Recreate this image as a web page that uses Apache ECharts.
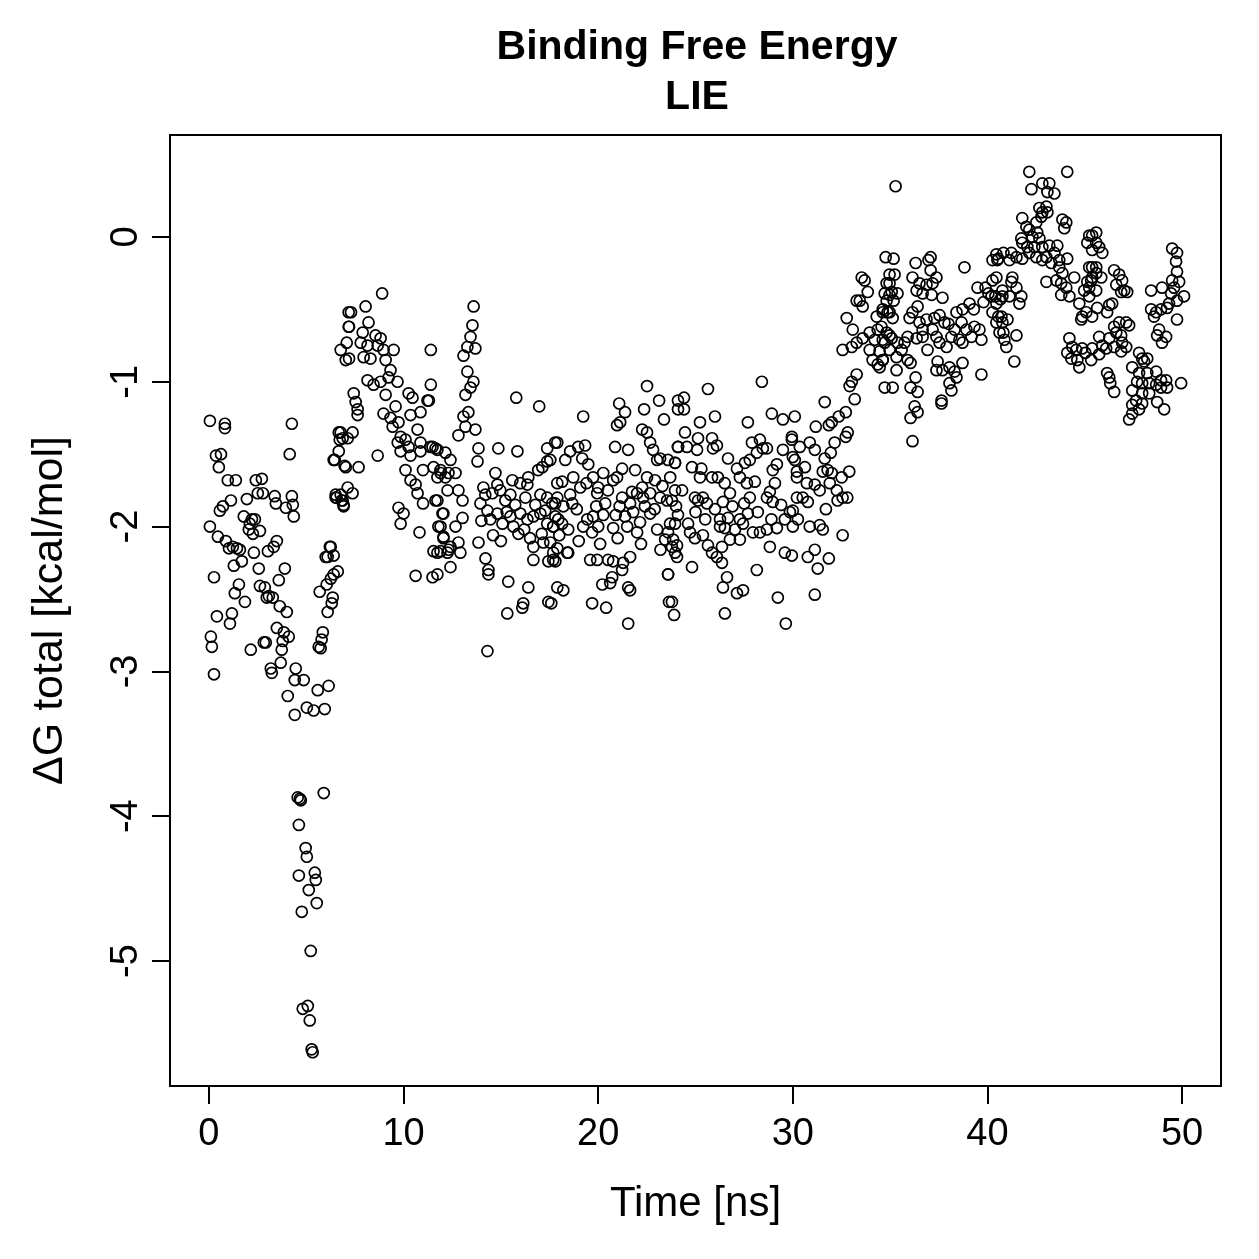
<!DOCTYPE html>
<html>
<head>
<meta charset="utf-8">
<script src="https://cdn.jsdelivr.net/npm/echarts@6/dist/echarts.min.js"></script>
<style>
  html, body { margin: 0; padding: 0; background: #fff; }
  #chart { width: 1259px; height: 1259px; }
</style>
</head>
<body>
<div id="chart"></div>
<script>
// [time ns, dG kcal/mol], by time window
var seg0to7 = [
  [0.05,-1.27],[0.05,-2.0],[0.10,-2.76],[0.15,-2.83],[0.26,-3.02],[0.26,-2.35],[0.36,-1.51],[0.46,-2.07],[0.41,-2.62],[0.51,-1.59],
  [0.56,-1.89],[0.62,-1.5],[0.72,-1.86],[0.82,-1.29],[0.82,-1.32],[0.87,-2.1],[0.97,-1.68],[1.03,-2.15],[1.08,-2.67],[1.13,-1.82],
  [1.18,-2.6],[1.23,-2.14],[1.28,-2.27],[1.33,-2.46],[1.38,-1.68],[1.44,-2.15],[1.54,-2.4],[1.59,-2.16],[1.69,-2.24],[1.79,-1.93],
  [1.85,-2.52],[1.95,-1.81],[2.05,-2.02],[2.10,-1.98],[2.15,-2.85],[2.21,-1.95],[2.26,-2.05],[2.31,-2.18],[2.36,-1.95],[2.41,-1.68],
  [2.51,-1.77],[2.56,-2.29],[2.62,-2.03],[2.62,-2.41],[2.72,-1.67],[2.77,-1.77],[2.82,-2.8],[2.87,-2.42],[2.92,-2.8],[2.97,-2.49],
  [3.03,-2.17],[3.08,-2.48],[3.18,-2.98],[3.23,-3.01],[3.28,-2.49],[3.33,-2.14],[3.38,-1.79],[3.44,-1.84],[3.49,-2.7],[3.49,-2.1],
  [3.59,-2.37],[3.64,-2.55],[3.69,-2.94],[3.74,-2.85],[3.79,-2.79],[3.85,-2.73],[3.90,-2.29],[3.95,-1.87],[4.0,-2.59],[4.05,-3.17],
  [4.10,-2.76],[4.15,-1.5],[4.26,-1.29],[4.26,-1.79],[4.31,-1.85],[4.36,-1.93],[4.41,-3.06],[4.41,-3.3],[4.46,-2.98],[4.56,-3.87],
  [4.62,-4.06],[4.62,-4.41],[4.67,-3.88],[4.72,-3.89],[4.77,-4.66],[4.82,-5.33],[4.87,-3.06],[4.97,-4.22],[5.03,-3.25],[5.03,-4.28],
  [5.08,-5.31],[5.13,-4.51],[5.18,-5.41],[5.23,-4.93],[5.28,-5.61],[5.33,-5.63],[5.38,-3.27],[5.44,-4.39],[5.49,-4.44],[5.54,-4.6],
  [5.59,-3.13],[5.64,-2.83],[5.69,-2.45],[5.74,-2.84],[5.79,-2.78],[5.85,-2.73],[5.90,-3.84],[5.95,-3.26],[6.0,-2.21],[6.05,-2.4],
  [6.10,-2.59],[6.15,-3.1],[6.21,-2.14],[6.26,-2.36],[6.31,-2.53],[6.36,-2.49],[6.41,-2.33],[6.46,-1.54],[6.51,-1.78],[6.56,-1.8],
  [6.62,-2.31],[6.67,-1.35],[6.72,-1.4],[6.77,-1.78],[6.82,-1.82],[6.87,-1.39],[6.92,-1.86],[6.97,-1.58],[7.03,-0.85],[7.08,-0.73],
  [7.13,-1.73],[7.18,-0.52],[7.18,-0.62],[6.26,-2.14],[6.1,-2.21],[6.41,-2.2],[6.77,-1.35],[7.13,-1.39],[7.38,-1.35],[6.67,-1.48],
  [6.41,-1.54],[7.03,-1.59],[6.51,-1.8],[6.87,-1.82],[6.92,-1.85],[6.77,-0.78]
];
var seg7to13 = [
  [8.9,-0.39],[8.05,-0.48],[7.3,-0.52],[7.2,-0.62],[8.2,-0.59],[7.9,-0.66],[8.56,-0.68],[8.82,-0.7],[7.8,-0.73],[8.15,-0.75],
  [8.67,-0.75],[8.97,-0.78],[9.49,-0.78],[7.2,-0.84],[7.95,-0.83],[8.3,-0.84],[9.08,-0.85],[9.33,-0.92],[9.23,-0.97],
  [11.4,-0.78],[11.4,-1.02],[11.3,-1.13],[7.44,-1.08],[7.54,-1.14],[7.64,-1.19],[7.64,-1.23],[8.15,-0.99],[8.46,-1.02],[8.82,-1.0],
  [9.69,-1.0],[9.08,-1.09],[9.59,-1.17],[8.97,-1.22],[9.33,-1.25],[9.74,-1.28],[9.44,-1.31],[10.26,-1.08],[10.46,-1.11],[10.87,-1.21],
  [10.36,-1.23],[10.72,-1.33],[11.23,-1.13],[9.85,-1.38],[10.1,-1.4],[9.7,-1.42],[10.26,-1.45],[10.87,-1.42],[9.85,-1.48],[10.36,-1.51],
  [10.87,-1.48],[11.38,-1.45],[11.64,-1.46],[7.69,-1.59],[8.67,-1.51],[10.1,-1.61],[10.36,-1.68],[10.62,-1.71],[10.72,-1.77],
  [11.0,-1.61],[11.54,-1.59],[11.9,-1.63],[12.15,-1.66],[7.38,-1.77],[9.74,-1.87],[10.0,-1.91],[9.85,-1.98],[10.82,-2.04],
  [11.0,-1.84],[11.64,-1.82],[12.0,-1.91],[11.79,-2.0],[12.05,-2.07],[11.54,-2.17],[11.9,-2.17],[12.26,-2.18],[10.62,-2.34],[11.49,-2.35],
  [11.49,-1.45],[11.74,-1.47],[12.15,-1.49],[12.41,-1.54],[11.9,-1.61],[11.74,-1.66],[12.31,-1.63],[12.67,-1.63],[12.26,-1.75],[12.82,-1.75],
  [11.74,-1.82],[13.03,-1.82],[12.05,-1.91],[11.9,-2.0],[12.67,-2.0],[13.03,-1.94],[12.05,-2.08],[12.41,-2.14],[12.82,-2.11],[11.74,-2.18],
  [12.31,-2.16],[12.92,-2.18],[12.41,-2.28],[11.74,-2.33]
];
var seg13to18 = [
  [13.6,-0.48],[13.54,-0.61],[13.44,-0.69],[13.28,-0.76],[13.69,-0.77],[13.08,-0.82],[13.28,-0.93],[13.59,-1.0],[13.44,-1.04],[13.18,-1.09],
  [13.33,-1.21],[13.08,-1.24],[13.18,-1.31],[12.82,-1.37],[13.69,-1.33],[15.79,-1.11],[16.97,-1.17],[13.85,-1.46],[13.8,-1.55],[14.87,-1.46],
  [15.85,-1.48],[17.38,-1.46],[17.79,-1.42],[17.13,-1.59],[17.38,-1.55],[16.92,-1.61],[14.72,-1.63],[14.1,-1.73],[14.56,-1.77],[14.82,-1.71],
  [15.59,-1.68],[16.0,-1.7],[16.41,-1.66],[16.36,-1.71],[17.03,-1.78],[17.38,-1.8],[17.79,-1.84],[17.9,-1.7],[13.95,-1.84],[14.31,-1.89],
  [14.46,-1.95],[14.82,-1.91],[15.08,-1.98],[15.49,-1.93],[15.64,-2.0],[16.0,-1.91],[16.36,-1.95],[16.67,-1.93],[17.03,-1.91],[17.38,-1.98],
  [17.69,-2.0],[17.95,-1.95],[14.2,-1.78],[15.23,-1.82],[15.74,-1.85],[16.26,-1.8],[16.77,-1.85],[17.28,-1.89],[14.97,-1.75],[15.49,-1.78],
  [13.85,-2.11],[14.21,-2.22],[14.36,-2.3],[14.36,-2.33],[16.67,-2.14],[17.18,-2.11],[17.69,-2.18],[17.44,-2.24],[16.67,-2.23],[15.38,-2.38],
  [16.41,-2.42],[15.33,-2.6],[16.15,-2.53],[16.1,-2.56],[17.44,-2.52],[17.9,-2.42],[14.31,-2.86],[14.6,-2.06],[15.0,-2.1],[15.9,-2.05],
  [16.5,-2.08],[14.0,-1.96],[15.3,-1.9],[16.2,-2.02],[17.1,-2.05]
];
var seg18to24 = [
  [22.51,-1.03],[19.23,-1.24],[21.08,-1.15],[21.38,-1.21],[20.97,-1.3],[21.13,-1.28],[22.36,-1.19],[23.13,-1.13],[23.38,-1.26],[24.1,-1.13],
  [24.1,-1.19],[22.26,-1.33],[22.51,-1.35],[22.67,-1.42],[22.82,-1.47],[23.18,-1.53],[23.59,-1.54],[23.95,-1.56],[23.03,-1.54],[20.87,-1.45],
  [21.54,-1.47],[24.1,-1.45],[17.9,-1.42],[18.56,-1.48],[18.97,-1.45],[19.33,-1.44],[19.18,-1.53],[19.49,-1.57],[18.31,-1.54],[17.54,-1.54],
  [18.15,-1.69],[18.72,-1.66],[19.08,-1.73],[18.56,-1.78],[17.9,-1.8],[17.64,-1.84],[18.21,-1.86],[18.67,-1.84],[19.74,-1.66],[20.26,-1.63],
  [20.0,-1.73],[19.95,-1.77],[20.36,-1.84],[20.77,-1.68],[20.97,-1.66],[21.23,-1.6],[21.9,-1.61],[22.51,-1.66],[22.92,-1.68],[22.26,-1.73],
  [21.74,-1.76],[21.23,-1.8],[22.0,-1.77],[21.64,-1.84],[22.31,-1.8],[22.67,-1.77],[23.18,-1.8],[23.54,-1.82],[23.95,-1.75],
  [17.8,-1.93],[18.15,-1.98],[18.46,-2.02],[17.69,-2.0],[17.54,-2.11],[17.9,-2.15],[17.69,-2.23],[18.46,-2.18],[19.44,-1.95],[19.74,-1.93],
  [20.26,-1.92],[19.23,-2.0],[19.69,-2.04],[20.0,-2.0],[20.77,-2.01],[21.38,-1.93],[21.49,-2.0],[22.0,-2.04],[22.15,-1.97],[22.67,-1.91],
  [23.03,-2.02],[23.44,-2.09],[23.59,-2.04],[23.95,-1.98],[23.79,-2.14],[24.05,-2.21],[19.59,-2.23],[19.95,-2.23],[20.51,-2.23],[20.77,-2.24],
  [21.28,-2.25],[21.64,-2.21],[17.8,-2.24],[18.41,-2.18],[20.72,-2.35],[21.23,-2.3],[20.21,-2.4],[20.62,-2.39],[21.54,-2.42],[21.64,-2.44],
  [23.59,-2.33],[18.21,-2.44],[17.59,-2.53],[19.69,-2.53],[20.41,-2.56],[21.54,-2.67],[23.79,-2.52],[23.9,-2.61],
  [18.9,-1.88],[19.4,-1.7],[19.9,-1.86],[20.5,-1.75],[20.9,-1.92],[21.1,-1.86],[21.8,-1.9],[22.4,-1.86],[22.9,-1.88],[23.3,-1.72],
  [23.7,-1.66],[24.0,-1.86],[18.0,-2.06],[19.0,-2.1],[20.1,-2.12],[21.0,-2.08],[22.2,-2.12],[23.2,-2.16]
];
var seg24to30 = [
  [28.41,-1.0],[25.64,-1.05],[24.41,-1.11],[24.41,-1.19],[26.0,-1.24],[25.23,-1.28],[24.46,-1.35],[25.13,-1.39],[25.85,-1.39],[26.1,-1.44],
  [24.1,-1.45],[24.56,-1.45],[25.08,-1.47],[26.67,-1.53],[25.9,-1.46],[27.69,-1.28],[28.92,-1.22],[29.49,-1.26],[30.1,-1.24],
  [27.9,-1.42],[28.31,-1.4],[28.46,-1.46],[28.15,-1.49],[28.67,-1.46],[27.79,-1.54],[27.54,-1.56],[27.13,-1.6],[29.95,-1.38],[29.49,-1.47],
  [29.18,-1.57],[28.97,-1.61],[30.0,-1.52],[30.21,-1.62],[23.95,-1.56],[24.82,-1.59],[25.23,-1.66],[25.85,-1.66],[26.15,-1.66],[27.28,-1.66],
  [27.64,-1.7],[28.05,-1.69],[29.08,-1.7],[28.82,-1.76],[28.67,-1.8],[28.97,-1.83],[27.79,-1.8],[26.77,-1.77],[26.41,-1.83],[25.38,-1.8],
  [25.13,-1.82],[25.59,-1.84],[24.97,-1.8],[24.31,-1.75],[23.79,-1.82],[24.1,-1.92],[24.62,-1.98],[23.69,-1.98],[23.85,-2.09],[24.05,-2.13],
  [24.72,-2.04],[24.97,-2.08],[25.38,-2.06],[25.64,-2.13],[25.85,-2.18],[26.1,-2.21],[26.36,-2.14],[26.26,-1.95],[26.67,-1.94],[27.28,-1.95],
  [27.69,-1.91],[26.51,-2.01],[27.03,-2.02],[27.44,-1.98],[27.95,-2.04],[28.31,-2.04],[28.67,-2.02],[29.18,-2.01],[29.59,-1.95],[29.85,-1.9],
  [30.0,-2.0],[27.28,-2.09],[26.77,-2.09],[26.26,-2.0],[23.95,-2.18],[24.82,-2.28],[26.36,-2.25],[26.62,-2.35],[26.41,-2.42],[27.13,-2.46],
  [27.44,-2.44],[28.15,-2.3],[28.82,-2.14],[29.59,-2.18],[23.59,-2.33],[23.64,-2.52],[26.51,-2.6],[29.23,-2.49],[29.64,-2.67],
  [25.0,-1.9],[25.5,-1.95],[26.0,-1.88],[26.9,-1.86],[27.5,-1.84],[28.2,-1.9],[28.9,-1.95],[29.4,-1.85],[25.3,-1.6],[26.5,-1.7]
];
var seg30to35 = [
  [34.77,-0.14],[34.97,-0.26],[34.82,-0.32],[34.72,-0.39],[34.97,-0.4],[35.18,-0.44],[33.54,-0.28],[33.69,-0.3],[33.85,-0.38],[33.44,-0.44],
  [33.59,-0.48],[33.28,-0.44],[32.77,-0.56],[33.08,-0.64],[32.56,-0.78],[33.03,-0.76],[33.28,-0.73],[33.59,-0.7],[33.95,-0.66],[34.31,-0.55],
  [34.62,-0.52],[34.97,-0.52],[34.36,-0.64],[34.21,-0.71],[34.62,-0.71],[34.97,-0.68],[33.95,-0.78],[34.1,-0.85],[34.36,-0.88],[34.62,-0.85],
  [34.97,-0.78],[35.33,-0.83],[35.33,-0.92],[34.72,-1.04],[33.28,-0.95],[33.03,-1.0],[32.92,-1.03],[33.18,-1.12],[31.64,-1.14],[32.72,-1.21],
  [32.36,-1.24],[32.0,-1.28],[31.85,-1.3],[32.82,-1.35],[32.72,-1.38],[32.15,-1.42],[31.95,-1.49],[31.64,-1.53],[31.18,-1.31],
  [29.95,-1.4],[30.36,-1.45],[30.87,-1.42],[31.13,-1.47],[30.1,-1.54],[30.62,-1.59],[30.21,-1.66],[31.54,-1.62],[31.79,-1.61],[32.0,-1.63],
  [32.51,-1.66],[30.72,-1.7],[31.13,-1.71],[31.38,-1.75],[32.26,-1.75],[32.56,-1.8],[30.21,-1.8],[30.51,-1.8],[30.77,-1.83],[30.0,-1.89],
  [30.26,-1.95],[30.87,-2.0],[31.38,-1.99],[32.56,-2.06],[31.54,-2.02],[31.13,-2.16],[31.85,-2.22],[29.95,-2.2],[31.28,-2.29],[31.13,-2.47],
  [30.77,-2.21],[31.9,-1.7],[32.3,-1.82],[31.7,-1.88],[32.8,-1.8],[32.9,-1.62]
];
var seg35to41 = [
  [35.28,0.35],[35.18,-0.15],[36.31,-0.18],[37.08,-0.14],[36.97,-0.16],[37.08,-0.23],[35.23,-0.26],[34.97,-0.32],[35.08,-0.38],[35.38,-0.39],
  [34.82,-0.44],[34.62,-0.5],[34.87,-0.52],[35.13,-0.56],[34.56,-0.62],[34.82,-0.66],[35.08,-0.7],[34.72,-0.73],[34.46,-0.79],[34.62,-0.85],
  [34.46,-0.9],[36.15,-0.28],[36.51,-0.32],[36.36,-0.37],[36.87,-0.33],[37.18,-0.32],[37.38,-0.28],[36.67,-0.39],[37.13,-0.4],[37.69,-0.42],
  [36.15,-0.52],[36.41,-0.48],[36.0,-0.56],[36.51,-0.59],[36.87,-0.57],[37.28,-0.56],[37.54,-0.54],[37.79,-0.59],[36.67,-0.64],[37.18,-0.64],
  [37.38,-0.69],[36.67,-0.69],[36.36,-0.7],[35.9,-0.69],[35.74,-0.73],[35.38,-0.73],[35.59,-0.78],[36.92,-0.78],[37.54,-0.73],[37.9,-0.76],
  [35.9,-0.85],[36.05,-0.87],[36.31,-0.97],[36.05,-1.04],[36.41,-1.07],[36.26,-1.17],[36.41,-1.21],[36.05,-1.25],[36.15,-1.41],[35.13,-1.04],
  [37.44,-0.86],[37.38,-0.92],[37.69,-0.92],[38.05,-0.9],[38.31,-0.93],[38.72,-0.87],[38.41,-0.97],[38.05,-1.01],[38.15,-1.06],[37.64,-1.13],
  [37.64,-1.15],[39.69,-0.95],[38.82,-0.21],[38.41,-0.52],[38.72,-0.5],[39.08,-0.46],[38.67,-0.59],[38.92,-0.64],[39.33,-0.62],[39.59,-0.64],
  [39.69,-0.71],[39.18,-0.69],[38.72,-0.73],[38.31,-0.64],[38.15,-0.69],[38.56,-0.71],[39.49,-0.35],[39.9,-0.35],[40.26,-0.3],[40.05,-0.39],
  [40.41,-0.41],[40.67,-0.43],[40.56,-0.55],[40.77,-0.59],[40.82,-0.66],[40.56,-0.15],[40.82,-0.11],[39.3,-0.5],[39.8,-0.45],[38.0,-0.6]
];
var seg41to46 = [
  [42.15,0.45],[44.1,0.45],[42.26,0.33],[42.82,0.37],[43.18,0.37],[43.44,0.3],[43.08,0.31],[42.67,0.2],[42.82,0.17],[43.03,0.21],
  [42.77,0.14],[43.08,0.17],[43.85,0.12],[44.05,0.1],[43.95,0.06],[41.79,0.13],[42.0,0.07],[42.15,0.05],[42.51,0.1],[42.56,0.03],
  [42.31,0.0],[42.67,-0.01],[41.74,-0.01],[41.79,-0.04],[42.05,-0.07],[42.41,-0.07],[42.82,-0.07],[43.18,-0.06],[43.59,-0.06],[42.15,-0.11],
  [42.51,-0.14],[43.03,-0.14],[43.44,-0.11],[43.69,-0.16],[43.28,-0.18],[42.82,-0.16],[41.79,-0.15],[41.49,-0.14],[41.13,-0.16],[41.23,-0.11],
  [40.46,-0.12],[40.51,-0.16],[40.26,-0.16],[44.1,-0.15],[43.69,-0.21],[43.85,-0.25],[43.54,-0.3],[43.79,-0.32],[44.05,-0.35],[44.46,-0.28],
  [43.03,-0.31],[43.79,-0.4],[44.21,-0.41],[45.23,0.01],[45.59,0.03],[45.13,-0.04],[45.38,-0.09],[45.74,-0.07],[45.23,-0.21],[45.59,-0.21],
  [45.38,-0.28],[45.13,-0.31],[45.23,-0.35],[44.97,-0.37],[44.72,-0.46],[45.08,-0.52],[44.87,-0.55],[44.82,-0.57],[40.46,-0.28],[40.77,-0.37],
  [41.23,-0.31],[41.28,-0.28],[41.49,-0.35],[41.74,-0.41],[41.64,-0.46],[41.13,-0.41],[40.77,-0.41],[40.21,-0.41],[40.46,-0.46],[40.26,-0.52],
  [40.72,-0.55],[41.03,-0.57],[40.46,-0.59],[40.62,-0.66],[40.87,-0.71],[40.97,-0.76],[41.49,-0.68],[41.38,-0.86],[44.21,-0.7],[44.36,-0.76],
  [44.1,-0.8],[44.56,-0.78],[44.87,-0.77],[44.31,-0.84],[44.62,-0.85],[44.72,-0.9],[45.03,-0.8]
];
var seg46to50 = [
  [45.38,0.01],[45.59,-0.04],[45.9,-0.11],[45.38,-0.21],[45.59,-0.25],[45.33,-0.3],[45.59,-0.37],[45.85,-0.28],[45.23,-0.41],[46.51,-0.23],
  [46.77,-0.26],[46.92,-0.3],[46.62,-0.33],[47.03,-0.37],[47.18,-0.38],[46.87,-0.38],[45.64,-0.49],[46.26,-0.47],[46.41,-0.46],[46.15,-0.52],
  [45.38,-0.55],[46.51,-0.62],[46.77,-0.59],[47.13,-0.59],[47.28,-0.61],[46.62,-0.66],[46.87,-0.68],[46.26,-0.7],[46.92,-0.73],[45.74,-0.69],
  [45.9,-0.75],[46.1,-0.77],[45.74,-0.81],[45.38,-0.77],[45.33,-0.85],[46.51,-0.76],[46.87,-0.79],[47.13,-0.76],[46.15,-0.94],[46.26,-0.97],
  [46.31,-1.01],[46.51,-1.07],[47.79,-0.8],[47.95,-0.84],[48.05,-0.86],[48.21,-0.84],[47.44,-0.9],[47.79,-0.94],[48.21,-0.94],[48.67,-0.93],
  [47.69,-1.0],[47.95,-1.01],[48.31,-1.01],[48.67,-1.02],[48.92,-0.99],[49.18,-0.99],[48.92,-1.04],[49.23,-1.04],[47.44,-1.06],[47.95,-1.08],
  [48.31,-1.08],[47.64,-1.13],[47.95,-1.15],[47.44,-1.16],[47.79,-1.19],[47.44,-1.22],[47.28,-1.26],[48.72,-1.14],[49.08,-1.19],[49.95,-1.01],
  [49.49,-0.08],[49.74,-0.11],[49.69,-0.17],[49.74,-0.24],[49.49,-0.3],[49.85,-0.31],[49.59,-0.35],[49.44,-0.39],[49.33,-0.46],[49.74,-0.44],
  [50.1,-0.41],[48.97,-0.35],[48.41,-0.37],[48.41,-0.5],[48.67,-0.52],[48.92,-0.5],[49.23,-0.49],[48.56,-0.55],[49.74,-0.57],[48.82,-0.64],
  [48.72,-0.68],[49.18,-0.69],[48.97,-0.73]
];
var xTicks = [0, 10, 20, 30, 40, 50];
var yTicks = [-5, -4, -3, -2, -1, 0];

var points = [].concat(seg0to7, seg7to13, seg13to18, seg18to24, seg24to30, seg30to35, seg35to41, seg41to46, seg46to50);
var font = 'Liberation Sans';

var myChart = echarts.init(document.getElementById('chart'));
var option = {
    backgroundColor: '#fff',
    animation: false,
    title: {
        text: 'Binding Free Energy\nLIE',
        left: 692,
        top: 18,
        textAlign: 'center',
        textStyle: {
            fontFamily: font,
            fontSize: 41,
            fontWeight: 'bold',
            color: '#000',
            lineHeight: 50
        }
    },
    grid: {
        left: 170,
        top: 135,
        width: 1051,
        height: 951,
        show: true,
        borderColor: '#000',
        borderWidth: 2,
        backgroundColor: 'transparent'
    },
    xAxis: {
        type: 'value',
        min: -2,
        max: 52,
        name: 'Time [ns]',
        nameLocation: 'middle',
        nameGap: 97,
        nameTextStyle: { fontFamily: font, fontSize: 42, color: '#000' },
        axisLine: { show: false, onZero: false },
        splitLine: { show: false },
        axisTick: {
            show: true,
            inside: false,
            length: 18,
            customValues: xTicks,
            lineStyle: { color: '#000', width: 2 }
        },
        axisLabel: {
            customValues: xTicks,
            margin: 30,
            fontFamily: font,
            fontSize: 38,
            color: '#000'
        }
    },
    yAxis: {
        type: 'value',
        min: -5.863,
        max: 0.704,
        name: 'ΔG total [kcal/mol]',
        nameLocation: 'middle',
        nameGap: 98,
        nameRotate: 90,
        nameTextStyle: { fontFamily: font, fontSize: 43, color: '#000' },
        axisLine: { show: false, onZero: false },
        splitLine: { show: false },
        axisTick: {
            show: true,
            inside: false,
            length: 18,
            customValues: yTicks,
            lineStyle: { color: '#000', width: 2 }
        },
        axisLabel: {
            customValues: yTicks,
            rotate: 90,
            margin: 24,
            fontFamily: font,
            fontSize: 38,
            color: '#000'
        }
    },
    series: [{
        type: 'scatter',
        data: points,
        symbol: 'circle',
        symbolSize: 11,
        itemStyle: {
            color: 'rgba(0,0,0,0)',
            borderColor: '#000',
            borderWidth: 1.7,
            opacity: 1
        },
        silent: true
    }]
};
myChart.setOption(option);
window.addEventListener('resize', function () {
    myChart.resize();
});
</script>
</body>
</html>
